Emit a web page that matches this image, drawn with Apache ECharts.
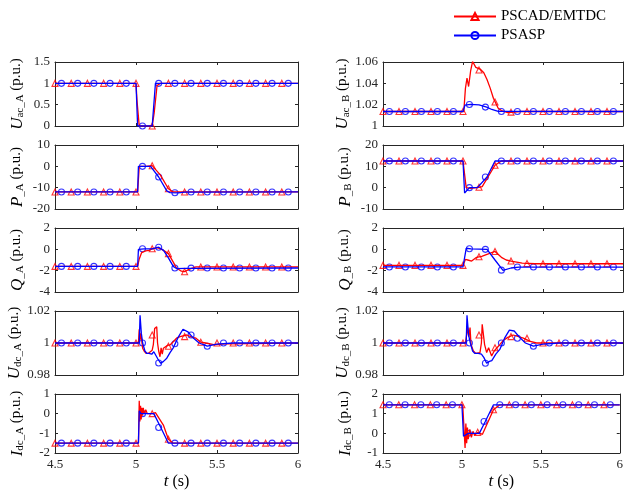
<!DOCTYPE html>
<html><head><meta charset="utf-8">
<script src="https://cdn.jsdelivr.net/npm/echarts/dist/echarts.min.js"></script>
<style>html,body{margin:0;padding:0;background:#fff}#c{width:626px;height:491px}</style>
</head><body><div id="c"></div><script>
const seriesNames = ['PSCAD/EMTDC', 'PSASP'];
const xTicks = [4.5, 5, 5.5, 6];
const redMkT  = [4.5, 4.6, 4.7, 4.8, 4.9, 5.0, 5.1, 5.2, 5.3, 5.4, 5.5, 5.6, 5.7, 5.8, 5.9];
const blueMkT = [4.54, 4.64, 4.74, 4.84, 4.94, 5.04, 5.14, 5.24, 5.34, 5.44, 5.54, 5.64, 5.74, 5.84, 5.94];

// U_ac_A
const redUacA  = [[4.5,1],[5.0,1],[5.006,0.6],[5.02,0],[5.1,0],[5.112,0.3],[5.13,0.95],[5.15,1],[6,1]];
const blueUacA = [[4.5,1],[5.0,1],[5.01,0],[5.1,0],[5.12,1],[6,1]];
const redMkUacA  = [1,1,1,1,1,1,0,1,1,1,1,1,1,1,1];
const blueMkUacA = [1,1,1,1,1,0,1,1,1,1,1,1,1,1,1];
// U_ac_B
const redUacB  = [[4.5,1.0136],[5.005,1.0136],[5.015,1.035],[5.025,1.045],[5.035,1.037],[5.048,1.052],[5.06,1.0605],[5.08,1.055],[5.11,1.053],[5.13,1.050],[5.15,1.0436],[5.17,1.0355],[5.19,1.026],[5.22,1.0167],[5.24,1.0145],[5.28,1.0125],[5.32,1.013],[5.36,1.0136],[6,1.0136]];
const blueUacB = [[4.5,1.0136],[5.0,1.0136],[5.012,1.0195],[5.048,1.0202],[5.1,1.0198],[5.148,1.0177],[5.18,1.0155],[5.22,1.0138],[6,1.0136]];
const redMkUacB  = [1.0136,1.0136,1.0136,1.0136,1.0136,1.0136,1.0525,1.0225,1.013,1.0136,1.0136,1.0136,1.0136,1.0136,1.0136];
const blueMkUacB = [1.0136,1.0136,1.0136,1.0136,1.0136,1.0202,1.0177,1.0136,1.0136,1.0136,1.0136,1.0136,1.0136,1.0136,1.0136];
// P_A
const redPA  = [[4.5,-12],[5.01,-12],[5.02,0],[5.06,0],[5.1,0.3],[5.15,-4],[5.2,-10.5],[5.23,-12],[6,-12]];
const bluePA = [[4.5,-12],[5.01,-12],[5.015,0],[5.09,0],[5.14,-5],[5.19,-11.5],[5.21,-12.3],[5.26,-12.4],[5.3,-12.1],[6,-12]];
const redMkPA  = [-12,-12,-12,-12,-12,-12,0.3,-10.5,-12,-12,-12,-12,-12,-12,-12];
const blueMkPA = [-12,-12,-12,-12,-12,0,-5,-12.4,-12,-12,-12,-12,-12,-12,-12];
// P_B
const redPB  = [[4.5,12.5],[5.0,12.5],[5.02,0],[5.05,-0.3],[5.08,0],[5.1,0.2],[5.12,0.5],[5.2,10.5],[5.24,12.5],[6,12.5]];
const bluePB = [[4.5,12.5],[5.0,12.5],[5.01,-2.5],[5.04,0],[5.09,0],[5.15,5],[5.2,12.5],[6,12.5]];
const redMkPB  = [12.5,12.5,12.5,12.5,12.5,12.5,0.2,10.5,12.5,12.5,12.5,12.5,12.5,12.5,12.5];
const blueMkPB = [12.5,12.5,12.5,12.5,12.5,0,5,12.5,12.5,12.5,12.5,12.5,12.5,12.5,12.5];
// Q_A
const redQA  = [[4.5,-1.6],[5.01,-1.6],[5.02,-0.9],[5.035,-0.3],[5.06,-0.15],[5.08,-0.1],[5.1,0.05],[5.13,0.15],[5.16,0.0],[5.2,-0.4],[5.23,-1.2],[5.25,-1.75],[5.28,-2.05],[5.3,-2.1],[5.33,-1.85],[5.37,-1.65],[6,-1.65]];
const blueQA = [[4.5,-1.6],[5.01,-1.6],[5.015,0.0],[5.05,0.05],[5.1,0.05],[5.14,0.2],[5.17,-0.1],[5.2,-0.8],[5.23,-1.6],[5.25,-1.8],[5.3,-1.78],[6,-1.75]];
const redMkQA  = [-1.6,-1.6,-1.6,-1.6,-1.6,-1.6,0.05,-0.4,-2.1,-1.65,-1.65,-1.65,-1.65,-1.65,-1.65];
const blueMkQA = [-1.6,-1.6,-1.6,-1.6,-1.6,0.05,0.2,-1.75,-1.76,-1.75,-1.75,-1.75,-1.75,-1.75,-1.75];
// Q_B
const redQB  = [[4.5,-1.5],[5.0,-1.5],[5.015,-0.95],[5.03,-1.0],[5.054,-1.1],[5.085,-0.75],[5.1,-0.7],[5.117,-0.65],[5.158,-0.43],[5.2,-0.2],[5.24,-0.75],[5.27,-1.0],[5.3,-1.1],[5.37,-1.3],[5.45,-1.35],[6,-1.35]];
const blueQB = [[4.5,-1.65],[5.0,-1.65],[5.02,0.1],[5.05,0.05],[5.15,0.0],[5.2,-1.0],[5.25,-1.97],[5.3,-1.75],[5.35,-1.66],[6,-1.66]];
const redMkQB  = [-1.5,-1.5,-1.5,-1.5,-1.5,-1.5,-0.7,-0.2,-1.1,-1.33,-1.35,-1.35,-1.35,-1.35,-1.35];
const blueMkQB = [-1.65,-1.65,-1.65,-1.65,-1.65,0.05,0.0,-1.95,-1.66,-1.66,-1.66,-1.66,-1.66,-1.66,-1.66];
// U_dc_A
const redUdcA  = [[4.5,1.0],[5.015,1.0],[5.02,1.0086],[5.025,1.002],[5.03,1.006],[5.041,0.9967],[5.05,0.995],[5.062,0.9936],[5.075,0.9935],[5.086,0.993],[5.1,0.9955],[5.107,0.999],[5.115,1.009],[5.128,1.0102],[5.133,1.0],[5.14,0.995],[5.148,0.9914],[5.155,0.997],[5.162,0.993],[5.169,0.9967],[5.18,0.9955],[5.195,0.9985],[5.21,0.9988],[5.23,1.0008],[5.25,1.003],[5.272,1.004],[5.313,1.005],[5.35,1.0035],[5.37,1.003],[5.4,1.0005],[5.43,1.0],[5.48,0.999],[5.55,0.9995],[6,1.0]];
const blueUdcA = [[4.5,1.0],[5.02,1.0],[5.025,1.0173],[5.033,1.006],[5.041,1.0],[5.055,0.995],[5.066,0.9936],[5.08,0.9935],[5.097,0.993],[5.11,0.9945],[5.12,0.9945],[5.135,0.990],[5.153,0.9873],[5.17,0.9885],[5.19,0.9905],[5.21,0.994],[5.23,0.997],[5.26,1.0035],[5.29,1.0086],[5.32,1.007],[5.35,1.0035],[5.39,1.0],[5.44,0.998],[5.5,0.9993],[5.6,1.0],[6,1.0]];
const redMkUdcA  = [1,1,1,1,1,1,1.005,0.998,1.004,1.0005,1,1,1,1,1];
const blueMkUdcA = [1,1,1,1,1,1,0.9875,0.9995,1.005,0.998,1,1,1,1,1];
// U_dc_B
const redUdcB  = [[4.5,1.0],[5.015,1.0],[5.023,1.0],[5.03,1.0096],[5.036,1.004],[5.044,1.0096],[5.05,0.999],[5.065,0.995],[5.08,0.9935],[5.106,0.994],[5.115,1.0],[5.12,1.0117],[5.127,1.0117],[5.135,0.999],[5.148,0.994],[5.16,0.997],[5.179,0.9919],[5.195,0.995],[5.21,0.9967],[5.23,0.999],[5.252,1.0016],[5.28,1.0035],[5.314,1.005],[5.377,1.003],[5.42,1.001],[5.46,1.0],[6,1.0]];
const blueUdcB = [[4.5,1.0],[5.02,1.0],[5.025,1.0173],[5.035,1.005],[5.046,1.0],[5.06,0.995],[5.073,0.9936],[5.095,0.9935],[5.115,0.993],[5.13,0.991],[5.148,0.9873],[5.165,0.9885],[5.18,0.989],[5.205,0.993],[5.23,0.996],[5.26,1.003],[5.29,1.008],[5.32,1.0075],[5.35,1.004],[5.39,1.0],[5.44,0.998],[5.5,0.9993],[5.6,1.0],[6,1.0]];
const redMkUdcB  = [1,1,1,1,1,1,1.005,0.997,1.004,1.003,1,1,1,1,1];
const blueMkUdcB = [1,1,1,1,1,1,0.9873,1.0,1.003,0.998,1,1,1,1,1];
// I_dc_A
const redIdcA  = [[4.5,-1.5],[5.015,-1.5],[5.02,0.65],[5.024,-0.4],[5.028,0.4],[5.032,-0.3],[5.036,0.3],[5.04,-0.1],[5.045,0.3],[5.05,0.0],[5.06,0.2],[5.07,0.0],[5.08,0.1],[5.1,0.0],[5.12,0.05],[5.13,0.0],[5.17,-0.6],[5.2,-1.3],[5.23,-1.5],[6,-1.5]];
const blueIdcA = [[4.5,-1.5],[5.015,-1.5],[5.02,0.15],[5.03,0.0],[5.11,0.0],[5.153,-0.7],[5.2,-1.5],[6,-1.5]];
const redMkIdcA  = [-1.5,-1.5,-1.5,-1.5,-1.5,-1.5,0.0,-1.3,-1.5,-1.5,-1.5,-1.5,-1.5,-1.5,-1.5];
const blueMkIdcA = [-1.5,-1.5,-1.5,-1.5,-1.5,0.0,-0.7,-1.5,-1.5,-1.5,-1.5,-1.5,-1.5,-1.5,-1.5];
// I_dc_B
const redIdcB  = [[4.5,1.45],[5.005,1.45],[5.02,-0.75],[5.025,0.5],[5.03,-0.5],[5.035,0.3],[5.04,-0.3],[5.05,0.2],[5.06,-0.2],[5.07,0.1],[5.08,-0.1],[5.1,0.05],[5.13,-0.05],[5.2,1.2],[5.24,1.45],[6,1.45]];
const blueIdcB = [[4.5,1.45],[5.0,1.45],[5.01,-0.15],[5.04,0.0],[5.11,0.0],[5.148,0.6],[5.2,1.45],[6,1.45]];
const redMkIdcB  = [1.45,1.45,1.45,1.45,1.45,1.45,0.05,1.2,1.45,1.45,1.45,1.45,1.45,1.45,1.45];
const blueMkIdcB = [1.45,1.45,1.45,1.45,1.45,0.0,0.6,1.45,1.45,1.45,1.45,1.45,1.45,1.45,1.45];

// y-axis names and tick ranges (row-major: left, right)
const yNames = [['U','ac_A'],['U','ac_B'],['P','_A'],['P','_B'],['Q','_A'],['Q','_B'],['U','dc_A'],['U','dc_B'],['I','dc_A'],['I','dc_B']];
const yMin  = [0, 1, -20, -10, -4, -4, 0.98, 0.98, -2, -1];
const yMax  = [1.5, 1.06, 10, 20, 2, 2, 1.02, 1.02, 1, 2];
const yStep = [0.5, 0.02, 10, 10, 2, 2, 0.02, 0.02, 1, 1];
const redLines  = [redUacA, redUacB, redPA, redPB, redQA, redQB, redUdcA, redUdcB, redIdcA, redIdcB];
const blueLines = [blueUacA, blueUacB, bluePA, bluePB, blueQA, blueQB, blueUdcA, blueUdcB, blueIdcA, blueIdcB];
const redMks  = [redMkUacA, redMkUacB, redMkPA, redMkPB, redMkQA, redMkQB, redMkUdcA, redMkUdcB, redMkIdcA, redMkIdcB];
const blueMks = [blueMkUacA, blueMkUacB, blueMkPA, blueMkPB, blueMkQA, blueMkQB, blueMkUdcA, blueMkUdcB, blueMkIdcA, blueMkIdcB];

const FONT = '"Liberation Serif", "Times New Roman", serif';
const AX = '#262626';
const RED = '#ff0000', BLUE = '#0000ff';
const colLeft = [55, 383], colWidth = [243, 240];
const rowTop0 = 62, rowStep = 83, rowH = 64;
const xMin = xTicks[0], xMax = xTicks[xTicks.length - 1], xStep = xTicks[1] - xTicks[0];
const fmt = v => String(Math.round(v * 1000) / 1000);

const grids = [], xAxes = [], yAxes = [], series = [];
const N = yNames.length;
for (let i = 0; i < N; i++) {
  const r = Math.floor(i / 2), c = i % 2;
  grids.push({left: colLeft[c], width: colWidth[c], top: rowTop0 + r * rowStep, height: rowH, containLabel: false});
}
const nameRich = {
  i: {fontFamily: FONT, fontStyle: 'italic', fontSize: 17, verticalAlign: 'top', lineHeight: 17, color: '#000'},
  s: {fontFamily: FONT, fontSize: 11, verticalAlign: 'bottom', lineHeight: 11, padding: [7, 0, 0, 0], color: '#000'},
  n: {fontFamily: FONT, fontSize: 15, verticalAlign: 'top', lineHeight: 17, color: '#000'}
};
const lineAx = {show: true, onZero: false, lineStyle: {color: AX, width: 1}};
const tickAx = {show: true, inside: true, length: 3, lineStyle: {color: AX, width: 1}};
for (let i = 0; i < N; i++) {
  const r = Math.floor(i / 2), c = i % 2;
  const bottom = r === 4;
  xAxes.push({
    type: 'value', gridIndex: i, position: 'bottom', min: xMin, max: xMax, interval: xStep,
    axisLine: lineAx, axisTick: tickAx, splitLine: {show: false},
    axisLabel: {show: bottom, fontFamily: FONT, fontSize: 13, color: AX, margin: 5, formatter: fmt},
    name: bottom ? '{i|t}{n| (s)}' : '', nameLocation: 'middle', nameGap: 20,
    nameTextStyle: {rich: {
      i: {fontFamily: FONT, fontStyle: 'italic', fontSize: 17, color: '#000'},
      n: {fontFamily: FONT, fontSize: 16, color: '#000'}}}
  });
  yAxes.push({
    type: 'value', gridIndex: i, position: 'left', min: yMin[i], max: yMax[i], interval: yStep[i],
    axisLine: lineAx, axisTick: tickAx, splitLine: {show: false},
    axisLabel: {fontFamily: FONT, fontSize: 13, color: AX, margin: 5, formatter: fmt},
    name: '{i|' + yNames[i][0] + '}{s|' + yNames[i][1] + '}{n| (p.u.)}',
    nameLocation: 'middle', nameRotate: 90, nameGap: c === 0 ? 29 : 29,
    nameTextStyle: {rich: nameRich}
  });
}
for (let i = 0; i < N; i++) {
  xAxes.push({type: 'value', gridIndex: i, position: 'top', min: xMin, max: xMax, interval: xStep,
    axisLine: lineAx, axisTick: tickAx, axisLabel: {show: false}, splitLine: {show: false}});
  yAxes.push({type: 'value', gridIndex: i, position: 'right', min: yMin[i], max: yMax[i], interval: yStep[i],
    axisLine: lineAx, axisTick: tickAx, axisLabel: {show: false}, splitLine: {show: false}});
}
const styles = [
  {name: seriesNames[0], color: RED, symbol: 'triangle', lines: redLines, mks: redMks, mkT: redMkT},
  {name: seriesNames[1], color: BLUE, symbol: 'circle', lines: blueLines, mks: blueMks, mkT: blueMkT}
];
for (let i = 0; i < N; i++) {
  for (const s of styles) {
    series.push({
      type: 'line', name: s.name, xAxisIndex: i, yAxisIndex: i, data: s.lines[i],
      showSymbol: false, symbol: s.symbol, symbolSize: 6,
      itemStyle: {color: 'rgba(255,255,255,0)', borderColor: s.color, borderWidth: 1},
      lineStyle: {color: s.color, width: 1.3}, clip: true, silent: true
    });
    series.push({
      type: 'scatter', name: s.name, xAxisIndex: i, yAxisIndex: i,
      data: s.mkT.map((t, k) => [t, s.mks[i][k]]),
      symbol: s.symbol, symbolSize: 6,
      itemStyle: {color: 'rgba(255,255,255,0)', borderColor: s.color, borderWidth: 1.1},
      silent: true
    });
  }
}
const chart = echarts.init(document.getElementById('c'), null, {renderer: 'canvas'});
chart.setOption({
  animation: false,
  backgroundColor: '#fff',
  grid: grids, xAxis: xAxes, yAxis: yAxes, series: series,
  legend: {
    data: seriesNames, orient: 'vertical', left: 448, top: 4,
    itemWidth: 42, itemHeight: 9, itemGap: 4,
    textStyle: {fontFamily: FONT, fontSize: 15, color: '#000'}
  }
});
</script></body></html>
